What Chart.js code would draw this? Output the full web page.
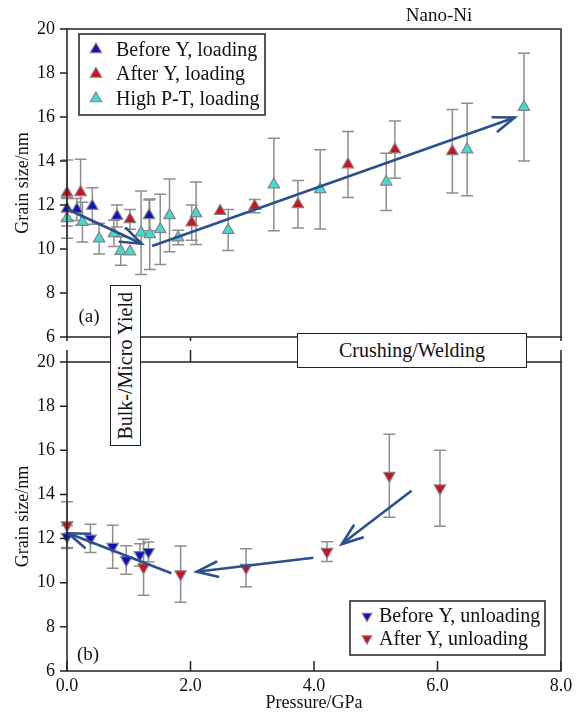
<!DOCTYPE html>
<html><head><meta charset="utf-8">
<script src="https://cdn.jsdelivr.net/npm/chart.js"></script>
<style>
html,body{margin:0;padding:0;background:#fff;}
#wrap{position:relative;width:577px;height:715px;overflow:hidden;font-family:"Liberation Serif","Times New Roman",serif;}
canvas{position:absolute;left:0;}
#c1{top:0;}
#c2{top:340px;}
.box{position:absolute;background:#fff;border:1.5px solid #222;box-sizing:border-box;color:#111;font-size:20px;display:flex;align-items:center;justify-content:center;white-space:nowrap;}
#bulk{left:110px;top:285px;width:31px;height:161px;}
#bulk span{writing-mode:vertical-rl;transform:rotate(180deg);}
#crush{left:297px;top:333px;width:230px;height:35px;}
</style></head><body>
<div id="wrap">
<canvas id="c1" width="577" height="345"></canvas>
<canvas id="c2" width="577" height="375"></canvas>
<div class="box" id="bulk"><span>Bulk-/Micro Yield</span></div>
<div class="box" id="crush">Crushing/Welding</div>
</div>
<script>
// ---------- tick labels ----------
const pressureTicks = [0, 2, 4, 6, 8];
const pressureTickLabels = ['0.0', '2.0', '4.0', '6.0', '8.0'];
const grainTicks = [6, 8, 10, 12, 14, 16, 18, 20];

// ---------- (a) loading ----------
const beforeLoadP   = [0.00, 0.16, 0.41, 0.81, 1.33];
const beforeLoadG   = [11.83, 11.80, 11.95, 11.50, 11.53];
const beforeLoadErr = [0.5, 0.5, 0.83, 0.5, 0.7];

const afterLoadP   = [0.00, 0.22, 1.02, 2.02, 2.48, 3.04, 3.74, 4.55, 5.31, 6.24];
const afterLoadG   = [12.55, 12.58, 11.35, 11.20, 11.72, 11.95, 12.03, 13.84, 14.52, 14.44];
const afterLoadErr = [1.5, 1.5, 0.45, 0.8, 0, 0.3, 1.08, 1.5, 1.3, 1.9];

const highPTP   = [0.00, 0.25, 0.52, 0.76, 0.87, 1.02, 1.20, 1.34, 1.51, 1.66, 1.80, 2.09, 2.61, 3.35, 4.10, 5.17, 6.48, 7.40];
const highPTG   = [11.39, 11.22, 10.47, 10.71, 9.91, 9.88, 10.74, 10.67, 10.89, 11.53, 10.52, 11.62, 10.86, 12.93, 12.71, 13.05, 14.52, 16.45];
const highPTErr = [0.9, 0.9, 0.7, 0.6, 0.65, 0, 1.9, 1.6, 1.6, 1.65, 0.33, 1.42, 0.93, 2.1, 1.8, 1.3, 2.1, 2.45];

// ---------- (b) unloading ----------
const beforeUnloadP   = [0.00, 0.38, 0.74, 0.96, 1.18, 1.32];
const beforeUnloadG   = [12.09, 12.01, 11.63, 11.03, 11.26, 11.40];
const beforeUnloadErr = [0.5, 0.64, 0.97, 0.65, 0.5, 0.45];

const afterUnloadP   = [0.00, 1.24, 1.84, 2.90, 4.21, 5.22, 6.04];
const afterUnloadG   = [12.61, 10.70, 10.39, 10.68, 11.41, 14.85, 14.28];
const afterUnloadErr = [1.06, 1.27, 1.27, 0.86, 0.45, 1.88, 1.72];

// ---------- arrows (tail -> head, data units) ----------
const arrowA1P = [0.00, 1.21];  const arrowA1G = [11.82, 10.24];
const arrowA2P = [1.38, 7.25];  const arrowA2G = [10.14, 15.98];
const arrowB1P = [1.69, 0.02];  const arrowB1G = [10.43, 12.24];
const arrowB2P = [3.99, 2.10];  const arrowB2G = [11.13, 10.50];
const arrowB3P = [5.58, 4.45];  const arrowB3G = [14.17, 11.75];

// ---------- styles ----------
const FONT = '"Liberation Serif", "Times New Roman", serif';
const BLUE = '#1010c4', RED = '#d0101c', CYAN = '#3fdcd4', ARROW = '#2c4f8e', EDGE = '#848484';

function pts(xs, ys) { return xs.map((x, i) => ({ x: x, y: ys[i] })); }
function markerSet(label, xs, ys, errs, color, rot) {
  return { label: label, data: pts(xs, ys), errs: errs, showLine: false, clip: false,
    pointStyle: 'triangle', pointRotation: rot, pointRadius: 6.6, pointHoverRadius: 6.6,
    pointBackgroundColor: color, pointBorderColor: EDGE, pointBorderWidth: 1.2, order: 1 };
}
function arrowSet(xs, ys) {
  return { arrow: true, data: pts(xs, ys), showLine: true, clip: false, borderColor: ARROW, borderWidth: 2.6,
    pointRadius: 0, pointHoverRadius: 0, fill: false, order: -1 };
}

function triPath(ctx, x, y, r, rot) {
  ctx.beginPath();
  for (let k = 0; k < 3; k++) {
    const a = rot * Math.PI / 180 + k * 2 * Math.PI / 3;
    const px = x + Math.sin(a) * r, py = y - Math.cos(a) * r;
    if (k === 0) ctx.moveTo(px, py); else ctx.lineTo(px, py);
  }
  ctx.closePath();
}

const errorBars = {
  id: 'errorBars',
  beforeDatasetsDraw(chart) {
    const ctx = chart.ctx, xs = chart.scales.x, ys = chart.scales.y;
    ctx.save(); ctx.strokeStyle = '#8e8e8e'; ctx.lineWidth = 1.5;
    chart.data.datasets.forEach(ds => {
      if (!ds.errs) return;
      ds.data.forEach((p, i) => {
        const e = ds.errs[i]; if (!e) return;
        const x = xs.getPixelForValue(p.x), y1 = ys.getPixelForValue(p.y + e), y2 = ys.getPixelForValue(p.y - e);
        ctx.beginPath();
        ctx.moveTo(x, y1); ctx.lineTo(x, y2);
        ctx.moveTo(x - 6, y1); ctx.lineTo(x + 6, y1);
        ctx.moveTo(x - 6, y2); ctx.lineTo(x + 6, y2);
        ctx.stroke();
      });
    });
    ctx.restore();
  }
};

const arrowHeads = {
  id: 'arrowHeads',
  afterDatasetsDraw(chart) {
    const ctx = chart.ctx, xs = chart.scales.x, ys = chart.scales.y;
    ctx.save(); ctx.strokeStyle = ARROW; ctx.lineWidth = 2.6; ctx.lineCap = 'round';
    chart.data.datasets.forEach(ds => {
      if (!ds.arrow) return;
      const n = ds.data.length, a = ds.data[n - 2], b = ds.data[n - 1];
      const x1 = xs.getPixelForValue(a.x), y1 = ys.getPixelForValue(a.y);
      const x2 = xs.getPixelForValue(b.x), y2 = ys.getPixelForValue(b.y);
      const ang = Math.atan2(y1 - y2, x1 - x2), L = 22, h = 20 * Math.PI / 180;
      ctx.beginPath();
      ctx.moveTo(x2 + L * Math.cos(ang + h), y2 + L * Math.sin(ang + h));
      ctx.lineTo(x2, y2);
      ctx.lineTo(x2 + L * Math.cos(ang - h), y2 + L * Math.sin(ang - h));
      ctx.stroke();
    });
    ctx.restore();
  }
};

const frame = {
  id: 'frame',
  afterDraw(chart, args, opts) {
    const ctx = chart.ctx, a = chart.chartArea, xs = chart.scales.x, ys = chart.scales.y;
    ctx.save(); ctx.strokeStyle = '#222'; ctx.lineWidth = 1.5;
    ctx.strokeRect(a.left, a.top, a.right - a.left, a.bottom - a.top);
    ctx.beginPath();
    ys.ticks.forEach(t => { const y = ys.getPixelForValue(t.value); ctx.moveTo(a.left - 7, y); ctx.lineTo(a.left, y); });
    xs.ticks.forEach(t => {
      const x = xs.getPixelForValue(t.value);
      if (opts.bottomTicks) { ctx.moveTo(x, a.bottom); ctx.lineTo(x, a.bottom + opts.bottomTicks); }
      if (opts.topTicks) { ctx.moveTo(x, a.top); ctx.lineTo(x, a.top - opts.topTicks); }
    });
    ctx.stroke();
    ctx.fillStyle = '#111'; ctx.textBaseline = 'middle';
    (opts.texts || []).forEach(t => { ctx.font = t.size + 'px ' + FONT; ctx.textAlign = t.align || 'center'; ctx.fillText(t.text, t.x, t.y); });
    const L = opts.legend;
    if (L) {
      ctx.fillStyle = '#fff'; ctx.fillRect(L.x, L.y, L.w, L.h);
      ctx.strokeStyle = '#222'; ctx.lineWidth = 1.5; ctx.strokeRect(L.x, L.y, L.w, L.h);
      ctx.font = L.size + 'px ' + FONT; ctx.textAlign = 'left';
      chart.data.datasets.filter(d => d.label).forEach((d, i) => {
        const y = L.y + L.first + i * L.step;
        triPath(ctx, L.mx, y, L.r, d.pointRotation);
        ctx.fillStyle = d.pointBackgroundColor; ctx.fill();
        ctx.strokeStyle = EDGE; ctx.lineWidth = 1.1; ctx.stroke();
        ctx.fillStyle = '#111'; ctx.fillText(d.label, L.tx, y + 1);
      });
    }
    ctx.restore();
  }
};

function yScale() {
  return {
    min: 6, max: 20,
    afterBuildTicks(s) { s.ticks = grainTicks.map(v => ({ value: v })); },
    ticks: { padding: 12, color: '#111', font: { family: FONT, size: 18 } },
    grid: { display: false, drawTicks: false }, border: { display: false },
    title: { display: true, text: 'Grain size/nm', color: '#111', font: { family: FONT, size: 18 }, padding: { top: 12, bottom: 0 } },
    afterFit(s) { s.width = 67; s.paddingTop = 0; s.paddingBottom = 0; }
  };
}

const chart1 = new Chart(document.getElementById('c1'), {
  type: 'scatter',
  data: { datasets: [
    arrowSet(arrowA1P, arrowA1G), arrowSet(arrowA2P, arrowA2G),
    markerSet('Before Y, loading', beforeLoadP, beforeLoadG, beforeLoadErr, BLUE, 0),
    markerSet('After Y, loading', afterLoadP, afterLoadG, afterLoadErr, RED, 0),
    markerSet('High P-T, loading', highPTP, highPTG, highPTErr, CYAN, 0)
  ] },
  options: {
    responsive: false, animation: false, devicePixelRatio: 1,
    layout: { padding: { top: 29, right: 16, left: 0, bottom: 0 } },
    plugins: { legend: { display: false }, tooltip: { enabled: false },
      frame: { bottomTicks: 4, texts: [
        { text: 'Nano-Ni', x: 439, y: 16, size: 19 },
        { text: '(a)', x: 89, y: 317, size: 19 }
      ], legend: { x: 79, y: 34, w: 186, h: 81, first: 15.5, step: 24.5, mx: 96, tx: 116, r: 6.6, size: 20 } } },
    scales: {
      x: { type: 'linear', min: 0, max: 8,
        afterBuildTicks(s) { s.ticks = pressureTicks.map(v => ({ value: v })); },
        ticks: { display: false }, grid: { display: false, drawTicks: false }, border: { display: false },
        afterFit(s) { s.height = 8; s.paddingLeft = 0; s.paddingRight = 0; } },
      y: yScale()
    }
  },
  plugins: [errorBars, arrowHeads, frame]
});

const chart2 = new Chart(document.getElementById('c2'), {
  type: 'scatter',
  data: { datasets: [
    arrowSet(arrowB1P, arrowB1G), arrowSet(arrowB2P, arrowB2G), arrowSet(arrowB3P, arrowB3G),
    markerSet('Before Y, unloading', beforeUnloadP, beforeUnloadG, beforeUnloadErr, BLUE, 180),
    markerSet('After Y, unloading', afterUnloadP, afterUnloadG, afterUnloadErr, RED, 180)
  ] },
  options: {
    responsive: false, animation: false, devicePixelRatio: 1,
    layout: { padding: { top: 22, right: 16, left: 0, bottom: 0 } },
    plugins: { legend: { display: false }, tooltip: { enabled: false },
      frame: { bottomTicks: -10, topTicks: 12, texts: [
        { text: '(b)', x: 88, y: 315, size: 19 }
      ], legend: { x: 350, y: 261, w: 195, h: 54, first: 15, step: 22.6, mx: 367, tx: 379, r: 5.6, size: 20 } } },
    scales: {
      x: { type: 'linear', min: 0, max: 8,
        afterBuildTicks(s) { s.ticks = pressureTicks.map(v => ({ value: v })); },
        ticks: { padding: 4, color: '#111', font: { family: FONT, size: 18 }, maxRotation: 0, autoSkip: false,
          callback: (v, i) => pressureTickLabels[i] },
        grid: { display: false, drawTicks: false }, border: { display: false },
        title: { display: true, text: 'Pressure/GPa', color: '#111', font: { family: FONT, size: 18 }, padding: { top: 0, bottom: 1 } },
        afterFit(s) { s.height = 44; s.paddingLeft = 0; s.paddingRight = 0; } },
      y: yScale()
    }
  },
  plugins: [errorBars, arrowHeads, frame]
});
</script>
</body></html>
